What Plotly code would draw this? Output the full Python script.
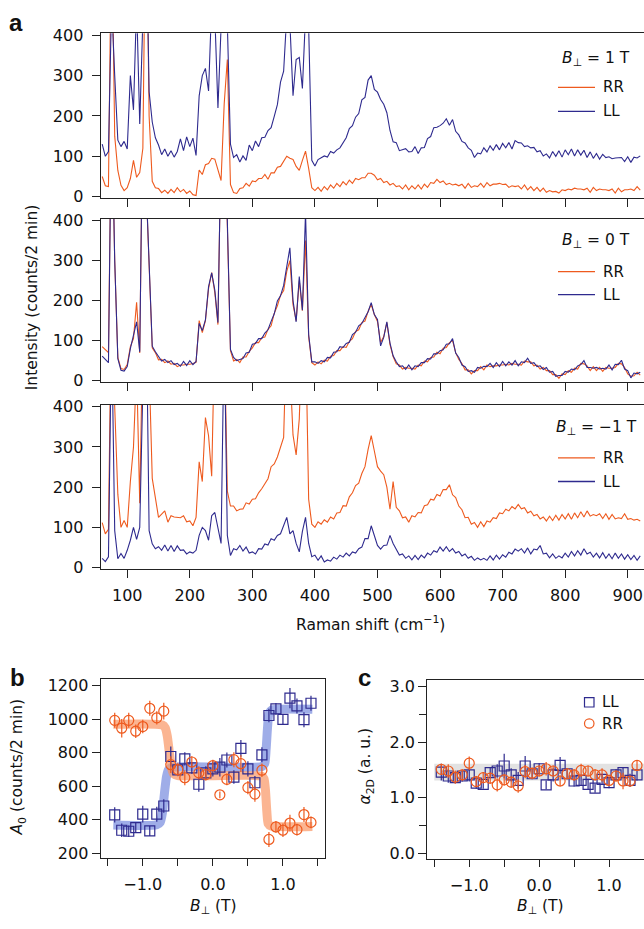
import plotly.graph_objects as go

W, H = 644, 929
def px(x): return x / W
def py(y): return 1 - y / H

# ---------------- data ----------------
raman_shift = list(range(60, 925, 5))

# panel a, B = +1 T
top_LL = [130, 100, 112, 480, 300, 140, 124, 137, 118, 300,
          215, 480, 180, 450, 700, 260, 185, 146, 128, 104,
          118, 100, 114, 98, 112, 143, 114, 148, 124, 145,
          102, 250, 300, 318, 262, 480, 450, 220, 420, 480,
          430, 130, 97, 104, 86, 101, 90, 128, 114, 138,
          124, 146, 147, 164, 171, 199, 228, 284, 311, 450,
          430, 250, 340, 345, 268, 450, 420, 90, 76, 92,
          97, 101, 98, 112, 108, 116, 121, 134, 146, 169,
          176, 197, 206, 240, 246, 289, 300, 266, 259, 241,
          229, 208, 164, 136, 134, 114, 116, 119, 111, 112,
          124, 107, 121, 122, 144, 149, 171, 172, 176, 182,
          193, 177, 191, 162, 153, 137, 133, 121, 115, 97,
          108, 106, 121, 111, 126, 115, 129, 116, 132, 121,
          134, 118, 139, 134, 133, 124, 126, 121, 122, 111,
          114, 101, 106, 96, 112, 100, 114, 98, 116, 104,
          118, 101, 116, 103, 115, 97, 111, 95, 107, 93,
          105, 97, 99, 94, 96, 97, 97, 87, 99, 85,
          98, 96, 101]
top_RR = [50, 27, 25, 700, 150, 65, 28, 15, 22, 45,
          90, 48, 60, 120, 800, 200, 38, 22, 20, 10,
          16, 8, 18, 10, 22, 12, 18, 8, 14, 5,
          3, 66, 55, 79, 82, 95, 93, 64, 40, 230,
          340, 30, 10, 8, 20, 22, 33, 26, 39, 37,
          45, 45, 55, 43, 59, 59, 73, 75, 88, 100,
          95, 92, 75, 65, 90, 113, 70, 22, 15, 23,
          13, 25, 17, 29, 21, 33, 25, 37, 29, 41,
          33, 45, 42, 47, 47, 58, 58, 53, 42, 45,
          35, 38, 29, 33, 25, 27, 19, 29, 17, 27,
          19, 29, 19, 31, 23, 35, 33, 43, 35, 39,
          30, 33, 29, 31, 27, 31, 21, 33, 23, 27,
          25, 33, 23, 35, 27, 31, 31, 33, 30, 31,
          23, 27, 25, 27, 19, 29, 17, 25, 15, 23,
          13, 21, 11, 15, 12, 13, 9, 17, 15, 19,
          17, 21, 19, 19, 17, 21, 11, 23, 15, 19,
          17, 17, 15, 19, 9, 21, 12, 17, 17, 19,
          15, 25, 16]

# panel a, B = 0 T
mid_RR = [85, 78, 70, 700, 300, 58, 30, 28, 40, 85,
          105, 196, 69, 700, 500, 300, 82, 70, 52, 53,
          45, 49, 41, 43, 35, 39, 39, 41, 41, 43,
          46, 150, 120, 150, 230, 270, 220, 140, 600, 700,
          400, 75, 49, 53, 45, 59, 59, 73, 82, 95,
          95, 107, 109, 128, 137, 168, 187, 213, 225, 273,
          300, 190, 150, 250, 175, 350, 110, 45, 39, 47,
          42, 51, 49, 61, 63, 75, 75, 85, 83, 98,
          105, 123, 127, 145, 149, 173, 190, 165, 148, 95,
          110, 145, 90, 60, 42, 39, 29, 33, 31, 31,
          29, 39, 37, 49, 47, 58, 59, 71, 67, 81,
          83, 95, 100, 70, 53, 43, 27, 27, 17, 25,
          25, 35, 27, 39, 35, 37, 37, 39, 39, 41,
          39, 43, 41, 41, 39, 49, 47, 47, 37, 39,
          29, 33, 25, 25, 15, 15, 6, 17, 15, 25,
          21, 31, 29, 43, 42, 37, 25, 35, 25, 33,
          23, 33, 31, 31, 33, 43, 42, 33, 17, 11,
          12, 21, 14]
mid_LL = [61, 53, 45, 700, 300, 55, 26, 24, 35, 80,
          110, 147, 72, 700, 500, 300, 86, 72, 61, 49,
          53, 45, 50, 40, 43, 36, 48, 38, 50, 40,
          48, 143, 125, 152, 235, 269, 226, 145, 600, 700,
          400, 78, 58, 50, 53, 55, 69, 71, 91, 93,
          105, 105, 119, 127, 148, 167, 199, 212, 238, 282,
          332, 200, 147, 260, 176, 420, 115, 47, 47, 43,
          50, 47, 58, 57, 71, 72, 85, 83, 93, 96,
          115, 121, 137, 143, 158, 172, 195, 165, 153, 87,
          108, 147, 94, 62, 47, 35, 37, 28, 39, 27,
          37, 35, 45, 45, 55, 54, 67, 67, 75, 77,
          91, 92, 105, 69, 58, 39, 35, 23, 25, 21,
          33, 31, 36, 35, 43, 33, 45, 35, 48, 37,
          47, 39, 50, 37, 47, 45, 56, 43, 45, 35,
          37, 28, 33, 21, 23, 11, 13, 13, 23, 21,
          29, 27, 37, 40, 50, 33, 33, 31, 33, 29,
          31, 29, 39, 27, 41, 40, 51, 29, 25, 7,
          19, 17, 21]

# panel a, B = -1 T
bot_RR = [112, 84, 95, 700, 400, 182, 100, 117, 100, 214,
          300, 500, 160, 600, 700, 500, 222, 174, 125, 133,
          141, 113, 129, 126, 125, 124, 129, 114, 116, 104,
          125, 263, 214, 373, 328, 227, 600, 500, 450, 600,
          190, 153, 153, 141, 145, 146, 161, 158, 170, 171,
          186, 196, 210, 221, 251, 258, 275, 300, 324, 600,
          500, 330, 280, 370, 600, 600, 170, 108, 100, 114,
          108, 119, 113, 126, 121, 136, 137, 154, 153, 176,
          186, 204, 210, 234, 251, 294, 328, 290, 251, 240,
          231, 200, 145, 214, 150, 141, 124, 126, 113, 129,
          126, 137, 136, 154, 156, 170, 168, 182, 178, 194,
          194, 206, 181, 174, 153, 144, 124, 125, 108, 112,
          100, 114, 102, 116, 113, 124, 122, 136, 134, 145,
          141, 152, 146, 157, 146, 149, 136, 140, 129, 132,
          121, 126, 116, 128, 117, 130, 118, 132, 121, 134,
          120, 136, 124, 139, 126, 141, 128, 132, 129, 134,
          122, 134, 120, 132, 121, 124, 122, 134, 120, 122,
          118, 120, 116]
bot_LL = [23, 15, 27, 600, 92, 22, 35, 23, 43, 68,
          100, 70, 100, 450, 700, 92, 59, 47, 52, 43,
          56, 41, 55, 40, 54, 43, 44, 34, 39, 36,
          43, 80, 100, 92, 68, 129, 137, 96, 60, 600,
          80, 30, 47, 44, 55, 41, 51, 36, 39, 34,
          47, 46, 59, 56, 72, 68, 80, 84, 104, 125,
          84, 92, 60, 39, 90, 125, 60, 27, 31, 18,
          29, 14, 19, 16, 26, 21, 31, 26, 36, 29,
          39, 36, 47, 51, 72, 72, 104, 80, 55, 46,
          55, 56, 80, 60, 44, 31, 34, 23, 29, 19,
          30, 20, 31, 24, 36, 31, 42, 38, 51, 41,
          52, 40, 47, 36, 40, 29, 34, 23, 28, 18,
          24, 19, 23, 18, 29, 19, 31, 21, 32, 26,
          38, 34, 46, 41, 47, 36, 49, 34, 46, 44,
          55, 34, 36, 24, 34, 23, 29, 24, 36, 26,
          40, 29, 42, 31, 47, 34, 38, 26, 36, 24,
          37, 23, 34, 22, 36, 23, 34, 21, 32, 20,
          30, 18, 29]

for arr in (top_LL, top_RR, mid_RR, mid_LL, bot_RR, bot_LL):
    assert len(arr) == len(raman_shift), len(arr)

# panels b, c: field values
field = [-1.4, -1.3, -1.2, -1.1, -1.0, -0.9, -0.8, -0.7, -0.6, -0.5, -0.4, -0.3, -0.2, -0.1,
         0.0, 0.1, 0.2, 0.3, 0.4, 0.5, 0.6, 0.7, 0.8, 0.9, 1.0, 1.1, 1.2, 1.3, 1.4]

A0_LL = [429, 337, 331, 353, 433, 333, 433, 482, 778, 698, 764, 710, 612, 680,
         704, 714, 757, 655, 827, 704, 621, 788, 1023, 1062, 1000, 1127, 1080, 998, 1096]
A0_LL_err = [45, 40, 35, 30, 50, 30, 45, 40, 60, 35, 40, 35, 45, 40,
             45, 55, 45, 40, 50, 45, 40, 45, 40, 35, 30, 60, 45, 45, 45]
A0_RR = [994, 947, 994, 929, 957, 1066, 1009, 1049, 729, 700, 651, 745, 680, 670,
         723, 549, 641, 759, 735, 592, 553, 696, 282, 357, 337, 380, 341, 431, 384]
A0_RR_err = [45, 55, 45, 40, 40, 45, 40, 50, 50, 40, 45, 35, 40, 35,
             35, 20, 35, 45, 50, 40, 45, 40, 45, 35, 40, 50, 35, 45, 35]

fit_LL_B = [-1.42, -0.80, -0.75, -0.72, -0.69, -0.66, -0.63, -0.58, 0.70, 0.74, 0.76, 0.78, 0.80, 0.84, 1.42]
fit_LL_A = [368, 370, 385, 440, 560, 660, 700, 714, 718, 735, 820, 950, 1035, 1056, 1060]
fit_RR_B = [-1.42, -0.72, -0.68, -0.65, -0.62, -0.59, -0.56, -0.50, 0.70, 0.73, 0.75, 0.77, 0.79, 0.83, 1.42]
fit_RR_A = [970, 966, 950, 900, 800, 710, 675, 664, 660, 645, 580, 450, 375, 362, 360]

alpha_LL = [1.46, 1.39, 1.36, 1.39, 1.41, 1.26, 1.24, 1.45, 1.48, 1.57, 1.41, 1.31, 1.57, 1.43,
            1.52, 1.23, 1.41, 1.58, 1.43, 1.30, 1.31, 1.24, 1.17, 1.33, 1.27, 1.41, 1.45, 1.31, 1.41]
alpha_LL_err = [0.15, 0.12, 0.10, 0.10, 0.12, 0.10, 0.08, 0.10, 0.12, 0.22, 0.12, 0.15, 0.18, 0.10,
                0.10, 0.08, 0.12, 0.15, 0.10, 0.10, 0.10, 0.10, 0.08, 0.10, 0.10, 0.10, 0.10, 0.12, 0.10]
alpha_RR = [1.51, 1.48, 1.37, 1.41, 1.62, 1.29, 1.36, 1.35, 1.23, 1.32, 1.28, 1.21, 1.47, 1.44,
            1.48, 1.52, 1.48, 1.30, 1.43, 1.41, 1.49, 1.48, 1.41, 1.41, 1.31, 1.39, 1.30, 1.30, 1.58]
alpha_RR_err = [0.10, 0.12, 0.12, 0.10, 0.12, 0.10, 0.10, 0.10, 0.12, 0.10, 0.10, 0.12, 0.12, 0.10,
                0.10, 0.12, 0.10, 0.10, 0.10, 0.10, 0.12, 0.10, 0.10, 0.12, 0.10, 0.10, 0.15, 0.10, 0.10]
alpha_band = [1.31, 1.61]

field_ticks = [-1.0, 0.0, 1.0]
field_labels = ["\u22121.0", "0.0", "1.0"]

# ---------------- style ----------------
ORANGE = "#EE5A1E"
BLUE = "#2E2A8E"
FONT = "DejaVu Sans, Liberation Sans, Arial, sans-serif"
BOLDFONT = "Liberation Sans, Arial, sans-serif"
LC = "#222222"

fig = go.Figure()

panels = [("x", "y", top_RR, top_LL), ("x2", "y2", mid_RR, mid_LL), ("x3", "y3", bot_RR, bot_LL)]
for xa, ya, rr, ll in panels:
    fig.add_trace(go.Scatter(x=raman_shift, y=rr, mode="lines", line=dict(color=ORANGE, width=1.1),
                             xaxis=xa, yaxis=ya, showlegend=False, hoverinfo="skip"))
    fig.add_trace(go.Scatter(x=raman_shift, y=ll, mode="lines", line=dict(color=BLUE, width=1.1),
                             xaxis=xa, yaxis=ya, showlegend=False, hoverinfo="skip"))

# panel b
fig.add_trace(go.Scatter(x=fit_LL_B, y=fit_LL_A, mode="lines",
                         line=dict(color="rgba(100,122,218,0.62)", width=9, shape="spline", smoothing=0.6),
                         xaxis="x4", yaxis="y4", showlegend=False, hoverinfo="skip"))
fig.add_trace(go.Scatter(x=fit_RR_B, y=fit_RR_A, mode="lines",
                         line=dict(color="rgba(250,150,100,0.7)", width=9, shape="spline", smoothing=0.6),
                         xaxis="x4", yaxis="y4", showlegend=False, hoverinfo="skip"))
fig.add_trace(go.Scatter(x=field, y=A0_LL, mode="markers",
                         marker=dict(symbol="square-open", size=10, color=BLUE, line=dict(width=1.2)),
                         error_y=dict(type="data", array=A0_LL_err, color=BLUE, thickness=1.2, width=0),
                         xaxis="x4", yaxis="y4", showlegend=False))
fig.add_trace(go.Scatter(x=field, y=A0_RR, mode="markers",
                         marker=dict(symbol="circle-open", size=10, color=ORANGE, line=dict(width=1.2)),
                         error_y=dict(type="data", array=A0_RR_err, color=ORANGE, thickness=1.2, width=0),
                         xaxis="x4", yaxis="y4", showlegend=False))

# panel c
fig.add_trace(go.Scatter(x=field, y=alpha_LL, mode="markers",
                         marker=dict(symbol="square-open", size=10, color=BLUE, line=dict(width=1.2)),
                         error_y=dict(type="data", array=alpha_LL_err, color=BLUE, thickness=1.2, width=0),
                         xaxis="x5", yaxis="y5", showlegend=False))
fig.add_trace(go.Scatter(x=field, y=alpha_RR, mode="markers",
                         marker=dict(symbol="circle-open", size=10, color=ORANGE, line=dict(width=1.2)),
                         error_y=dict(type="data", array=alpha_RR_err, color=ORANGE, thickness=1.2, width=0),
                         xaxis="x5", yaxis="y5", showlegend=False))

common = dict(showline=True, linecolor=LC, linewidth=1.3, ticks="outside", ticklen=8, tickwidth=1.2,
              tickcolor=LC, showgrid=False, zeroline=False, tickfont=dict(size=16, color="#111", family=FONT))
minor_half = dict(dtick=0.5, tick0=0, ticks="outside", ticklen=7, tickwidth=1.2, tickcolor=LC, showgrid=False)

xa_dom = [px(100.7), 1.0]
ydoms = [[py(194), py(26.7)], [py(381), py(215)], [py(571), py(404.3)]]
ticks_a = [100, 200, 300, 400, 500, 600, 700, 800, 900]
layout = dict(width=W, height=H, margin=dict(l=0, r=0, t=0, b=0),
              plot_bgcolor="white", paper_bgcolor="white",
              font=dict(family=FONT, size=15, color="#111"))
names = [("xaxis", "yaxis", "y", "x"), ("xaxis2", "yaxis2", "y2", "x2"), ("xaxis3", "yaxis3", "y3", "x3")]
for i, (xn, yn, yref, xref) in enumerate(names):
    layout[xn] = dict(common, domain=xa_dom, range=[57.6, 926], anchor=yref, mirror=True,
                      tickvals=ticks_a, showticklabels=(i == 2), ticklabelstandoff=4,
                      ticklabeloverflow="allow")
    layout[yn] = dict(common, domain=ydoms[i], range=[-3, 405], anchor=xref,
                      tickvals=[0, 100, 200, 300, 400], ticklabelstandoff=5)

layout["xaxis4"] = dict(common, domain=[px(100.7), px(325)], range=[-1.6, 1.6], anchor="y4", mirror=True,
                        tickvals=field_ticks, ticktext=field_labels, ticklen=7, ticklabelstandoff=5,
                        minor=minor_half)
layout["yaxis4"] = dict(common, domain=[py(865), py(682.7)], range=[171, 1243], anchor="x4", mirror=True,
                        tickvals=[200, 400, 600, 800, 1000, 1200])
layout["xaxis5"] = dict(common, domain=[px(427.3), 1.0], range=[-1.6, 1.5], anchor="y5", mirror=True,
                        tickvals=field_ticks, ticktext=field_labels, ticklen=7, ticklabelstandoff=5,
                        minor=minor_half)
layout["yaxis5"] = dict(common, domain=[py(866), py(684)], range=[-0.106, 3.12], anchor="x5",
                        tickvals=[0, 1, 2, 3], ticktext=["0.0", "1.0", "2.0", "3.0"], minor=minor_half)
fig.update_layout(**layout)

shapes = [dict(type="rect", xref="x5", yref="y5", x0=-1.5, x1=1.6, y0=alpha_band[0], y1=alpha_band[1],
               fillcolor="#E2E2E2", line=dict(width=0), layer="below")]
annos = []

def ann(x, y, text, size=15, angle=0, xanchor="center", bold=False):
    fam = FONT
    if bold:
        text = "<b>" + text + "</b>"
        fam = BOLDFONT
    annos.append(dict(x=px(x), y=py(y), xref="paper", yref="paper", text=text, showarrow=False,
                      textangle=angle, xanchor=xanchor, yanchor="middle",
                      font=dict(size=size, family=fam, color="#111")))

legend_specs = [(52.7, 81.7, 106.0, "1"), (238.3, 269.0, 292.3, "0"), (428.3, 458.3, 482.3, "\u22121")]
for yb, yrr, yll, val in legend_specs:
    ann(596, yb, "<i>B</i><sub>\u22a5</sub> = " + val + " T", size=15.5)
    shapes.append(dict(type="line", xref="paper", yref="paper", x0=px(558), x1=px(595), y0=py(yrr), y1=py(yrr),
                       line=dict(color=ORANGE, width=1.3)))
    shapes.append(dict(type="line", xref="paper", yref="paper", x0=px(558), x1=px(595), y0=py(yll), y1=py(yll),
                       line=dict(color=BLUE, width=1.3)))
    ann(601, yrr, "RR", size=15, xanchor="left")
    ann(601, yll, "LL", size=15, xanchor="left")

# panel c legend
shapes.append(dict(type="rect", xref="paper", yref="paper", x0=px(584.5), x1=px(594), y0=py(711.5), y1=py(702),
                   line=dict(color=BLUE, width=1.2)))
shapes.append(dict(type="circle", xref="paper", yref="paper", x0=px(584.5), x1=px(594), y0=py(733), y1=py(723.5),
                   line=dict(color=ORANGE, width=1.2)))
ann(600, 706.7, "LL", size=15, xanchor="left")
ann(600, 728.3, "RR", size=15, xanchor="left")

ann(16, 16, "a", size=24, bold=True)
ann(17, 682, "b", size=24, bold=True)
ann(364, 681, "c", size=24, bold=True)
ann(32, 295, "Intensity (counts/2 min)", size=15.5, angle=-90)
ann(370, 627, "Raman shift (cm<sup>\u22121</sup>)", size=15.5)
ann(18, 773, "<i>A</i><sub>0</sub> (counts/2 min)", size=15.5, angle=-90)
ann(366, 772, "<i>\u03b1</i><sub>2D</sub> (a. u.)", size=15.5, angle=-90)
ann(213, 915, "<i>B</i><sub>\u22a5</sub> (T)", size=15.5)
ann(540, 915, "<i>B</i><sub>\u22a5</sub> (T)", size=15.5)

fig.update_layout(shapes=shapes, annotations=annos)
fig.write_html("out.html", config={"displayModeBar": False},
               post_script="document.body.style.margin='0px';document.body.style.overflow='hidden';")
